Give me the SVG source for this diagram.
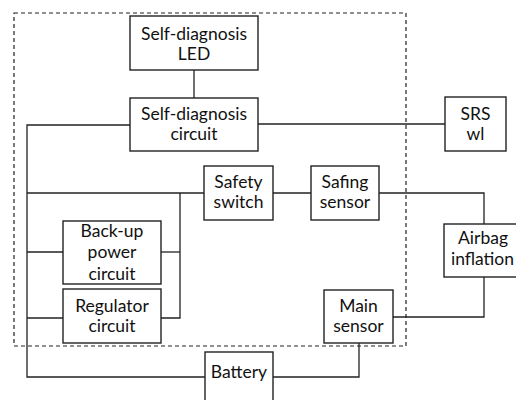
<svg xmlns="http://www.w3.org/2000/svg" width="516" height="400" viewBox="0 0 516 400">
<style>
.b{fill:#fff;stroke:#222;stroke-width:1.4}
.t{font-family:Lato,"Open Sans","DejaVu Sans",sans-serif;font-size:17.5px;fill:#111;text-anchor:middle}
.w{fill:none;stroke:#222;stroke-width:1.3}
.d{fill:none;stroke:#222;stroke-width:1.2;stroke-dasharray:4 3}
</style>
<rect width="516" height="400" fill="#fff"/>
<rect id="boundary" class="d" x="14" y="13" width="392" height="333"/>
<g id="connectors">
<path class="w" d="M194 70V98"/>
<path class="w" d="M130 125H27V377H205"/>
<path class="w" d="M258 124H445"/>
<path class="w" d="M27 193H204"/>
<path class="w" d="M273 193H311"/>
<path class="w" d="M379 193H484V224"/>
<path class="w" d="M27 252H63"/>
<path class="w" d="M27 318H63"/>
<path class="w" d="M161 252H180"/>
<path class="w" d="M161 318H180V193"/>
<path class="w" d="M273 377H359V343"/>
<path class="w" d="M393 317H484V277"/>
</g>
<g id="led"><rect class="b" x="130" y="16" width="128" height="54"/><text class="t" x="194" y="40">Self-diagnosis</text><text class="t" x="194" y="60">LED</text></g>
<g id="diag"><rect class="b" x="130" y="98" width="128" height="53"/><text class="t" x="194" y="120">Self-diagnosis</text><text class="t" x="194" y="140">circuit</text></g>
<g id="srs"><rect class="b" x="445" y="97" width="61" height="54"/><text class="t" x="475.5" y="120">SRS</text><text class="t" x="475.5" y="140">wl</text></g>
<g id="safety"><rect class="b" x="204" y="166" width="69" height="54"/><text class="t" x="238.5" y="188">Safety</text><text class="t" x="238.5" y="208">switch</text></g>
<g id="safing"><rect class="b" x="311" y="166" width="68" height="54"/><text class="t" x="345" y="188">Safing</text><text class="t" x="345" y="208">sensor</text></g>
<g id="airbag"><rect class="b" x="444" y="224" width="80" height="53"/><text class="t" x="483" y="244">Airbag</text><text class="t" x="482.5" y="265" textLength="63" lengthAdjust="spacingAndGlyphs">inflation</text></g>
<g id="backup"><rect class="b" x="63" y="221" width="98" height="63"/><text class="t" x="112" y="237">Back-up</text><text class="t" x="112" y="258">power</text><text class="t" x="112" y="280">circuit</text></g>
<g id="regulator"><rect class="b" x="63" y="289" width="98" height="54"/><text class="t" x="112" y="312">Regulator</text><text class="t" x="112" y="332">circuit</text></g>
<g id="main"><rect class="b" x="324" y="290" width="69" height="53"/><text class="t" x="358.5" y="312">Main</text><text class="t" x="358.5" y="332">sensor</text></g>
<g id="battery"><rect class="b" x="205" y="352" width="68" height="52"/><text class="t" x="239" y="378">Battery</text></g>
</svg>
